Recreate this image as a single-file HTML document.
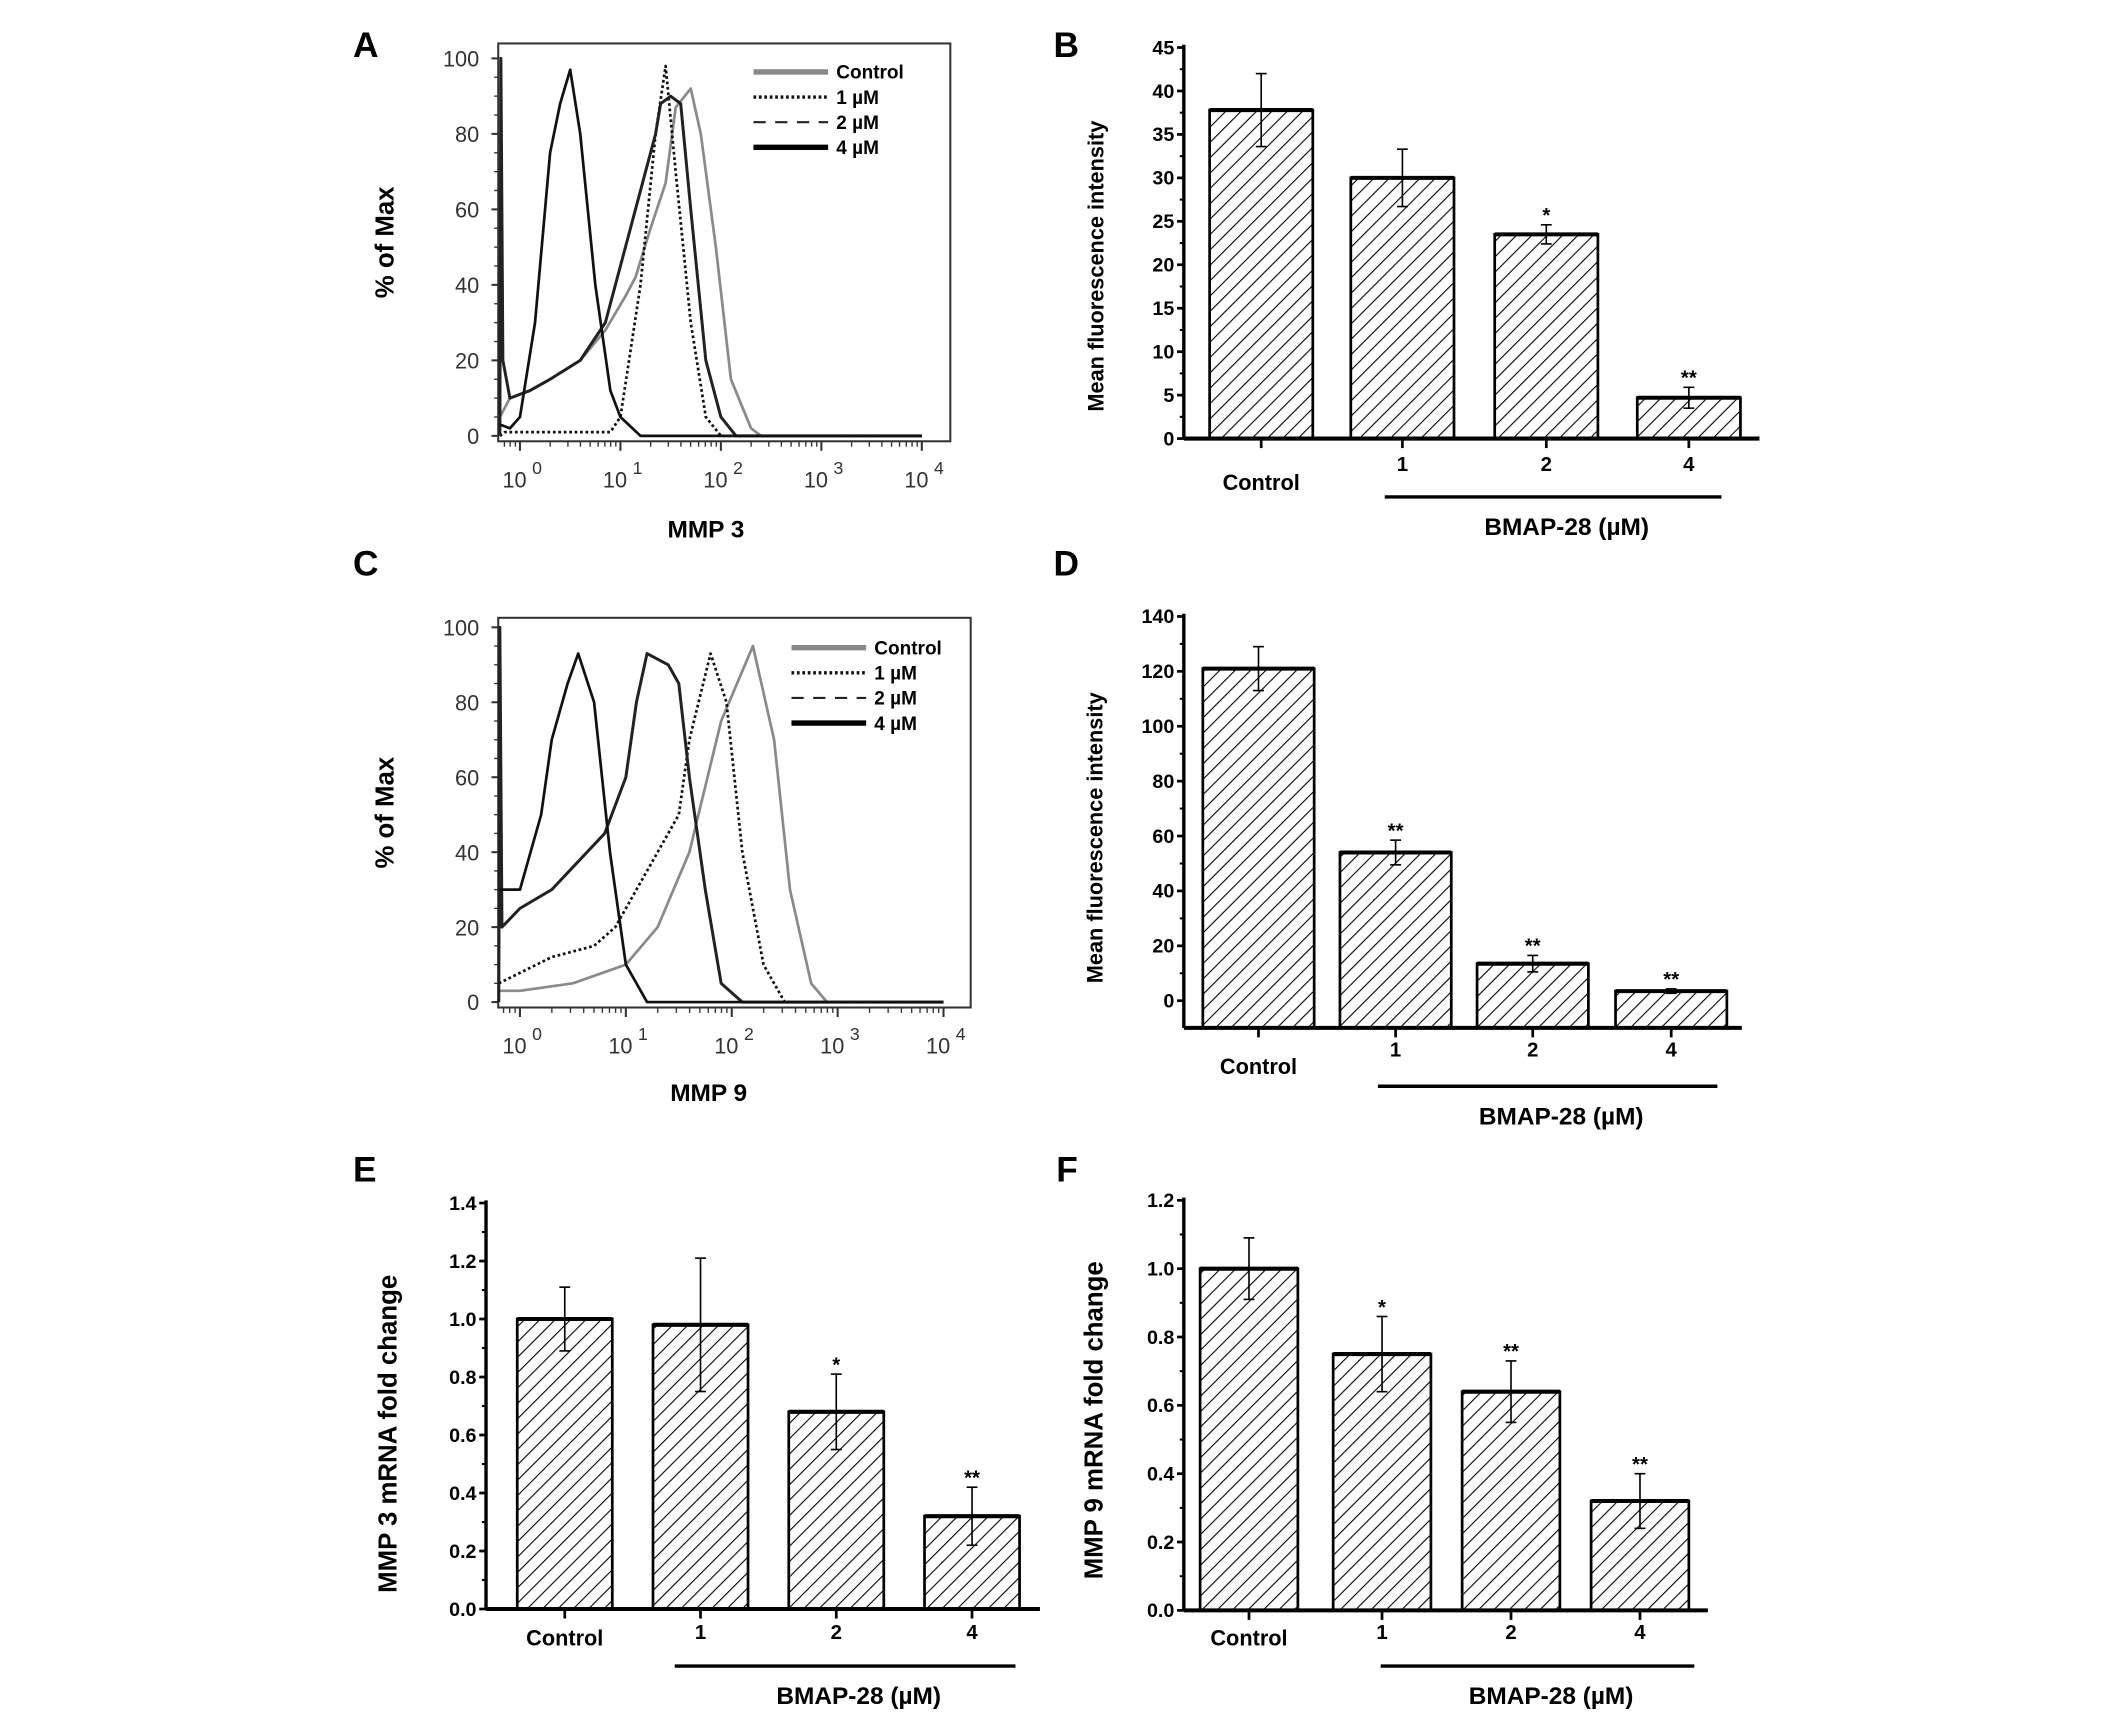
<!DOCTYPE html>
<html><head><meta charset="utf-8">
<style>
html,body{margin:0;padding:0;background:#fff;width:2126px;height:1719px;overflow:hidden}
svg{display:block}
text{font-family:"Liberation Sans",Arial,sans-serif}
</style></head>
<body>
<svg id="fig" width="2126" height="1719" viewBox="0 0 1566 1266" preserveAspectRatio="none" xmlns="http://www.w3.org/2000/svg">
<defs>
<pattern id="hatch" patternUnits="userSpaceOnUse" width="8" height="8" patternTransform="rotate(45)">
<line x1="0" y1="0" x2="0" y2="8" stroke="#000" stroke-width="1.6"/>
</pattern>
</defs>
<g id="root"></g>
</svg>
<script>
// ---- Panel A data (MMP3 histogram): log10 positions and % of max
const aCtrlX=[-0.2,-0.1,0.1,0.3,0.6,0.85,1.05,1.15,1.3,1.45,1.55,1.7,1.8,1.95,2.1,2.3,2.4,4.0];
const aCtrlY=[5,10,12,15,20,28,37,42,55,67,87,92,80,50,15,2,0,0];
const a1X=[-0.2,-0.15,0.5,0.9,1.0,1.2,1.35,1.45,1.55,1.7,1.85,2.0,4.0];
const a1Y=[0,1,1,1,5,40,80,98,70,30,5,0,0];
const a2X=[-0.2,-0.19,-0.17,-0.1,0.1,0.3,0.6,0.85,1.05,1.2,1.35,1.4,1.5,1.6,1.7,1.85,2.0,2.15,4.0];
const a2Y=[0,100,20,10,12,15,20,30,50,65,80,88,90,88,60,20,5,0,0];
const a4X=[-0.2,-0.1,0.0,0.15,0.3,0.4,0.5,0.6,0.75,0.9,1.0,1.2,4.0];
const a4Y=[3,2,5,30,75,88,97,80,40,12,5,0,0];
// ---- Panel C data (MMP9 histogram)
const cCtrlX=[-0.2,0,0.5,1.0,1.3,1.6,1.9,2.05,2.2,2.4,2.55,2.75,2.9,4.0];
const cCtrlY=[3,3,5,10,20,40,75,85,95,70,30,5,0,0];
const c1X=[-0.2,0.3,0.7,0.9,1.1,1.5,1.6,1.8,1.95,2.1,2.3,2.5,4.0];
const c1Y=[5,12,15,20,30,50,70,93,80,40,10,0,0];
const c2X=[-0.2,-0.19,-0.17,0,0.3,0.8,1.0,1.1,1.2,1.4,1.5,1.6,1.75,1.9,2.1,4.0];
const c2Y=[0,100,20,25,30,45,60,80,93,90,85,60,30,5,0,0];
const c4X=[-0.2,0,0.2,0.3,0.45,0.55,0.7,0.85,1.0,1.2,4.0];
const c4Y=[30,30,50,70,85,93,80,40,10,0,0];
// ---- Bar chart data
const barCats=["Control","1","2","4"];
const bVals=[37.8,30,23.5,4.7];
const bErr=[4.2,3.3,1.1,1.2];
const bStars=["","","*","**"];
const bTicks=[0,5,10,15,20,25,30,35,40,45];
const dVals=[121,54,13.5,3.5];
const dErr=[8,4.5,3,0.8];
const dStars=["","**","**","**"];
const dTicks=[0,20,40,60,80,100,120,140];
const eVals=[1.0,0.98,0.68,0.32];
const eErr=[0.11,0.23,0.13,0.10];
const eStars=["","","*","**"];
const eTicks=["0.0","0.2","0.4","0.6","0.8","1.0","1.2","1.4"];
const fVals=[1.0,0.75,0.64,0.32];
const fErr=[0.09,0.11,0.09,0.08];
const fStars=["","*","**","**"];
const fTicks=["0.0","0.2","0.4","0.6","0.8","1.0","1.2"];
const histTickLabels=["0","1","2","3","4"];
const histYTicks=[0,20,40,60,80,100];

const NS="http://www.w3.org/2000/svg";
const root=document.getElementById('root');
function el(tag,attrs,parent,txt){const e=document.createElementNS(NS,tag);for(const k in attrs)e.setAttribute(k,attrs[k]);if(txt!==undefined)e.textContent=txt;(parent||root).appendChild(e);return e;}

function panelLabel(ch,x,y){
  const t=el('text',{x:x,y:y,'font-family':'Liberation Serif,serif','font-weight':'bold','font-size':26},root,ch);
  
  
}

function histogram(id,cfg,series,legend){
  const g=el('g',{});
  
  
  const sx=d=>cfg.x0+cfg.dec*d;
  const sy=v=>cfg.y0-(cfg.y0-cfg.y100)*v/100;
  el('rect',{x:cfg.l,y:cfg.t,width:cfg.r-cfg.l,height:cfg.b-cfg.t,fill:'none',stroke:'#333','stroke-width':1.5},g);
  histYTicks.forEach(v=>{
    el('line',{x1:cfg.l-5,x2:cfg.l,y1:sy(v),y2:sy(v),stroke:'#333','stroke-width':1.5},g);
    const t=el('text',{x:cfg.l-14,y:sy(v)+6,'text-anchor':'end','font-size':16,fill:'#333'},g,String(v));
    
    
  });
  for(let v=0;v<=100;v+=5)el('line',{x1:cfg.l-3,x2:cfg.l,y1:sy(v),y2:sy(v),stroke:'#333'},g);
  histTickLabels.forEach((lab,i)=>{
    const x=sx(i);
    el('line',{x1:x,x2:x,y1:cfg.b,y2:cfg.b+7,stroke:'#333','stroke-width':1.5},g);
    const t=el('text',{x:x-4,y:cfg.b+34,'text-anchor':'middle','font-size':16,fill:'#333'},g,'10');
    
    
    el('text',{x:x+9,y:cfg.b+24,'font-size':13,fill:'#333'},g,lab);
    if(i<4)for(let k=2;k<10;k++){const xm=sx(i+Math.log10(k));el('line',{x1:xm,x2:xm,y1:cfg.b,y2:cfg.b+4,stroke:'#333'},g);}
  });
  for(let k=5;k<10;k++){const xm=sx(-1+Math.log10(k));if(xm>cfg.l)el('line',{x1:xm,x2:xm,y1:cfg.b,y2:cfg.b+4,stroke:'#333'},g);}
  series.forEach(s=>{
    const pts=s.x.map((d,i)=>Math.max(cfg.l,Math.min(cfg.r,sx(d)))+','+sy(s.y[i])).join(' ');
    const p=el('polyline',{points:pts,fill:'none',stroke:s.c,'stroke-width':s.w,'stroke-dasharray':s.dash||'none','stroke-linejoin':'round'},g);
    
    
  });
  legend.forEach((lg,i)=>{
    const y=cfg.legY+i*18.5;
    el('line',{x1:cfg.legX,x2:cfg.legX+55,y1:y,y2:y,stroke:lg.c,'stroke-width':lg.w,'stroke-dasharray':lg.dash||'none'},g);
    const t=el('text',{x:cfg.legX+61,y:y+5,'font-size':14,'font-weight':'bold'},g,lg.t);
    
    
  });
  const yt=el('text',{x:0,y:0,'font-size':19,'font-weight':'bold','text-anchor':'middle',transform:'translate('+cfg.ytX+','+((cfg.t+cfg.b)/2)+') rotate(-90)'},g,'% of Max');
  
  
  const xt=el('text',{x:cfg.xtX,y:cfg.xtY,'font-size':18,'font-weight':'bold','text-anchor':'middle'},g,cfg.xt);
  
  
}

const legendDef=[{t:'Control',c:'#888',w:4},{t:'1 µM',c:'#111',w:2.5,dash:'2,2'},{t:'2 µM',c:'#222',w:1.5,dash:'9,7'},{t:'4 µM',c:'#000',w:4}];

histogram('mmp3',{l:367,r:700,t:32,b:325,x0:383,dec:74,y0:321,y100:43,legX:555,legY:53,ytX:290,xtX:520,xtY:396,xt:'MMP 3'},
 [{name:'control-curve',x:aCtrlX,y:aCtrlY,c:'#8a8a8a',w:2},
  {name:'1uM-curve',x:a1X,y:a1Y,c:'#111',w:2,dash:'2,2'},
  {name:'2uM-curve',x:a2X,y:a2Y,c:'#222',w:2.2},
  {name:'4uM-curve',x:a4X,y:a4Y,c:'#111',w:2}],legendDef);

histogram('mmp9',{l:367,r:715,t:455,b:742,x0:383,dec:78,y0:738,y100:462,legX:583,legY:477,ytX:290,xtX:522,xtY:811,xt:'MMP 9'},
 [{name:'control-curve',x:cCtrlX,y:cCtrlY,c:'#8a8a8a',w:2},
  {name:'1uM-curve',x:c1X,y:c1Y,c:'#111',w:2,dash:'2,2'},
  {name:'2uM-curve',x:c2X,y:c2Y,c:'#222',w:2.2},
  {name:'4uM-curve',x:c4X,y:c4Y,c:'#111',w:2}],legendDef);

function barChart(id,cfg,vals,errs,stars,ticks){
  const g=el('g',{});
  
  
  const max=parseFloat(ticks[ticks.length-1]);
  const sy=v=>cfg.y0-(cfg.y0-cfg.yTop)*v/max;
  const base=cfg.base||cfg.y0;
  vals.forEach((v,i)=>{
    const cx=cfg.cx[i];
    const r=el('rect',{x:cx-cfg.bw/2,y:sy(v),width:cfg.bw,height:base-sy(v),fill:'url(#hatch)',stroke:'#000','stroke-width':2},g);
    
    
    el('line',{x1:cx-cfg.bw/2,x2:cx+cfg.bw/2,y1:sy(v),y2:sy(v),stroke:'#000','stroke-width':3},g);
    const hi=sy(v+errs[i]),lo=sy(v-errs[i]);
    el('line',{x1:cx,x2:cx,y1:hi,y2:lo,stroke:'#000','stroke-width':1.2},g);
    el('line',{x1:cx-4,x2:cx+4,y1:hi,y2:hi,stroke:'#000','stroke-width':1.2},g);
    el('line',{x1:cx-4,x2:cx+4,y1:lo,y2:lo,stroke:'#000','stroke-width':1.2},g);
    if(stars[i]){const s=el('text',{x:cx,y:hi-2,'text-anchor':'middle','font-size':15,'font-weight':'bold'},g,stars[i]);
      
      }
    const lab=el('text',{x:cx,y:i==0?cfg.ctlY:cfg.numY,'text-anchor':'middle','font-size':i==0?16:15,'font-weight':'bold'},g,barCats[i]);
    
    
    el('line',{x1:cx,x2:cx,y1:base,y2:base+7,stroke:'#000','stroke-width':2},g);
  });
  el('line',{x1:cfg.ax,x2:cfg.ax,y1:cfg.yTop-2,y2:base,stroke:'#000','stroke-width':2.5},g);
  el('line',{x1:cfg.ax,x2:cfg.xEnd,y1:base,y2:base,stroke:'#000','stroke-width':3},g);
  ticks.forEach(tk=>{
    const v=parseFloat(tk),y=sy(v);
    el('line',{x1:cfg.ax-5,x2:cfg.ax,y1:y,y2:y,stroke:'#000','stroke-width':2},g);
    const t=el('text',{x:cfg.ax-7,y:y+5,'text-anchor':'end','font-size':14.5,'font-weight':'bold'},g,String(tk));
    
    
  });
  for(let k=0;k<ticks.length-1;k++){const y=(sy(parseFloat(ticks[k]))+sy(parseFloat(ticks[k+1])))/2;el('line',{x1:cfg.ax-3,x2:cfg.ax,y1:y,y2:y,stroke:'#000','stroke-width':1.5},g);}
  el('line',{x1:cfg.lineX1,x2:cfg.lineX2,y1:cfg.lineY,y2:cfg.lineY,stroke:'#000','stroke-width':2.5},g);
  const bt=el('text',{x:(cfg.lineX1+cfg.lineX2)/2+10,y:cfg.lineY+28,'text-anchor':'middle','font-size':18,'font-weight':'bold'},g,'BMAP-28 (µM)');
  
  
  const yt=el('text',{x:0,y:0,'text-anchor':'middle','font-size':cfg.ytSize,'font-weight':'bold',transform:'translate('+cfg.ytX+','+cfg.ytY+') rotate(-90)'},g,cfg.yt);
  
  
}

barChart('mfi-mmp3',{ax:872,y0:323,yTop:35,cx:[929,1033,1139,1244],bw:76,xEnd:1296,ctlY:361,numY:347,lineX1:1020,lineX2:1268,lineY:366,ytX:813,ytY:196,yt:'Mean fluorescence intensity',ytSize:16},bVals,bErr,bStars,bTicks);
barChart('mfi-mmp9',{ax:872,y0:737,yTop:454,base:757,cx:[927,1028,1129,1231],bw:82,xEnd:1283,ctlY:791,numY:778,lineX1:1015,lineX2:1265,lineY:800,ytX:812,ytY:617,yt:'Mean fluorescence intensity',ytSize:16},dVals,dErr,dStars,dTicks);
barChart('mrna-mmp3',{ax:358,y0:1185,yTop:886,cx:[416,516,616,716],bw:70,xEnd:766,ctlY:1212,numY:1207,lineX1:497,lineX2:748,lineY:1227,ytX:292,ytY:1056,yt:'MMP 3 mRNA fold change',ytSize:19},eVals,eErr,eStars,eTicks);
barChart('mrna-mmp9',{ax:872,y0:1186,yTop:884,cx:[920,1018,1113,1208],bw:72,xEnd:1258,ctlY:1212,numY:1207,lineX1:1017,lineX2:1248,lineY:1227,ytX:812,ytY:1046,yt:'MMP 9 mRNA fold change',ytSize:19},fVals,fErr,fStars,fTicks);

panelLabel('A',260,42);
panelLabel('B',776,42);
panelLabel('C',260,424);
panelLabel('D',776,424);
panelLabel('E',260,870);
panelLabel('F',778,870);
</script>
</body></html>
